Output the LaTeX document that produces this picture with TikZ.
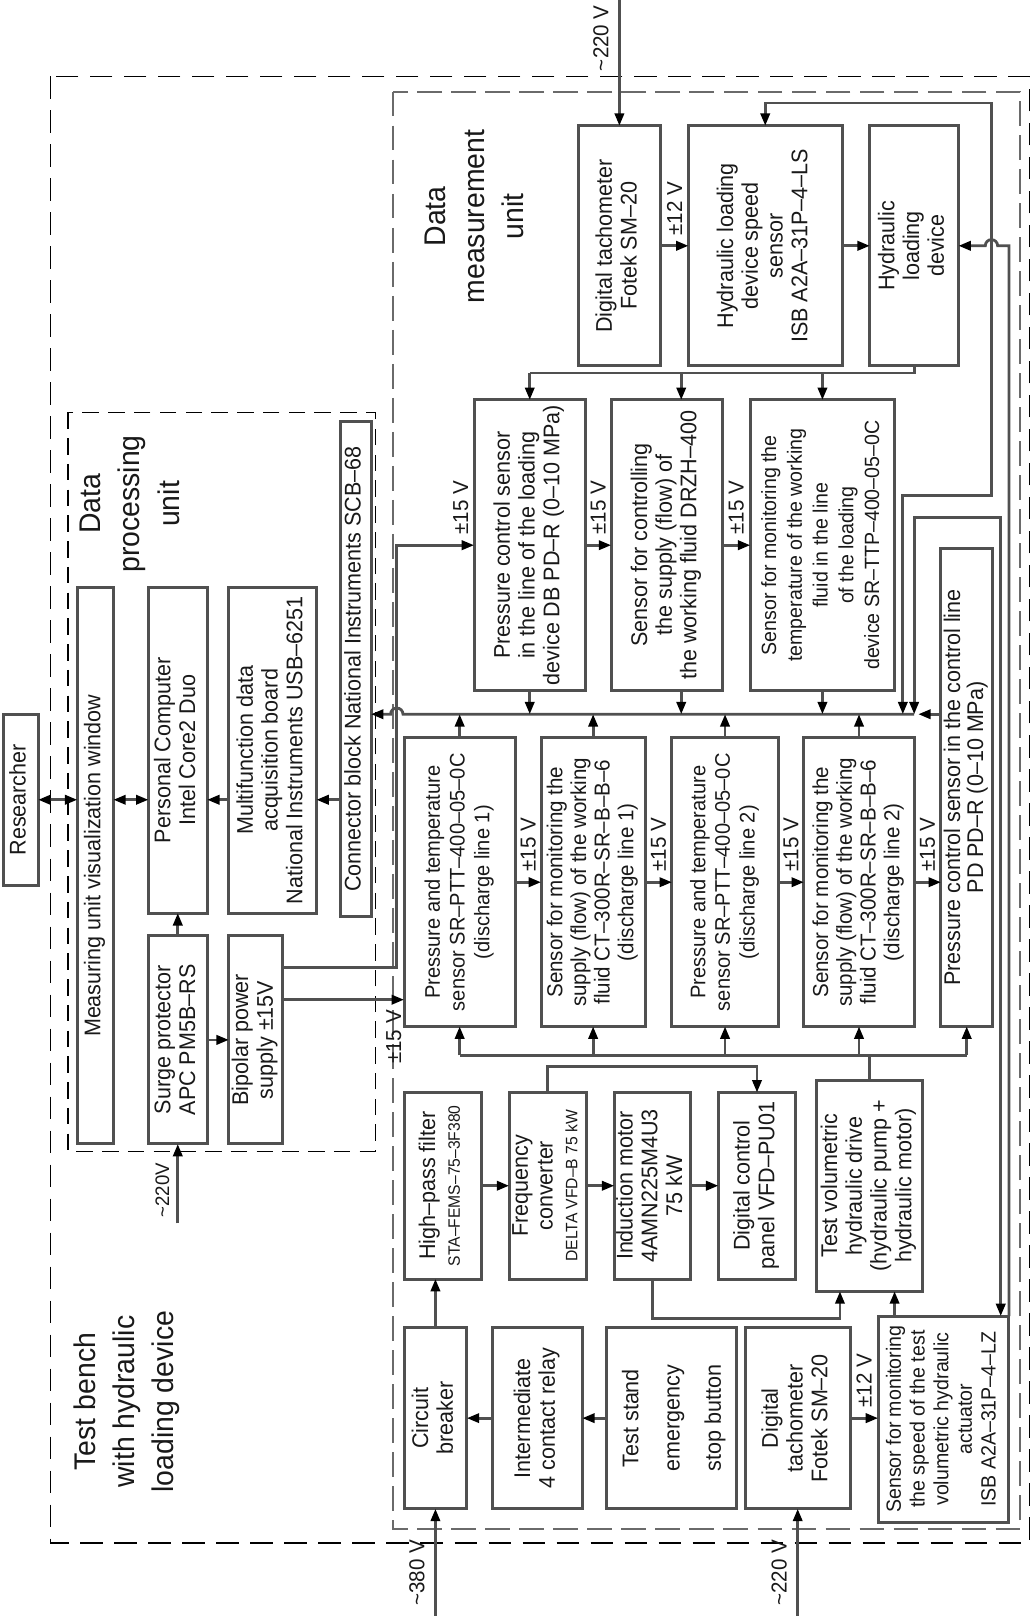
\documentclass[tikz,border=0pt]{standalone}
\usepackage{fontspec}
\setmainfont{Liberation Sans}[FakeStretch=0.95]
\usepackage{graphicx}
\usetikzlibrary{arrows.meta,calc}
\definecolor{ln}{RGB}{80,80,80}
\definecolor{tx}{RGB}{25,25,25}
\newcommand\bx[7][]{%
  \pgfmathsetmacro\bxw{#5-#3}%
  \pgfmathsetmacro\bxh{#6-#4}%
  \pgfmathsetmacro\bxcx{(#3+#5)/2}%
  \pgfmathsetmacro\bxcy{(#4+#6)/2}%
  \node[box,minimum width=\bxw pt,minimum height=\bxh pt,#1] (#2) at (\bxcx,\bxcy) {\rotatebox{90}{\begin{tabular}{@{}c@{}}#7\end{tabular}}};%
}
\begin{document}
\begin{tikzpicture}[x=1pt,y=-1pt,
  box/.style={draw=ln, line width=2.9pt, rectangle, inner sep=0pt, outer sep=0pt, text=tx, font=\fontsize{22}{24}\selectfont},
  con/.style={draw=ln, line width=2.7pt},
  arr/.style={con, -{Triangle[length=12pt,width=9pt,color=black]}},
  darr/.style={con, {Triangle[length=12pt,width=9pt,color=black]}-{Triangle[length=12pt,width=9pt,color=black]}},
  lbl/.style={rotate=90, text=tx, font=\fontsize{21}{22}\selectfont, inner sep=1pt},
  vlbl/.style={rotate=90, text=tx, font=\fontsize{21}{22}\selectfont, inner sep=1pt},
  ttl/.style={rotate=90, text=tx, align=center, font=\fontsize{29}{38}\selectfont},
  frameout/.style={draw=black, line width=1.3pt, dash pattern=on 22pt off 11pt},
  framemeas/.style={draw=ln!85, line width=2pt, dash pattern=on 24pt off 9pt},
  frameproc/.style={draw=black, line width=1.2pt, dash pattern=on 16pt off 9pt}
]
\fill[white] (0,0) rectangle (1003,1568);
\useasboundingbox (0,0) rectangle (1003,1568);

% frames
\draw[frameout] (49,74) rectangle (999,1497);
\draw[framemeas] (381,89) rectangle (990,1484);
\draw[frameproc] (66,400) rectangle (364,1117);

% titles
\node[ttl] (tproc) at (126,489) {Data\\processing\\unit};
\node[ttl] (tbench) at (123,1360) {Test bench\\with hydraulic\\loading device};
\node[ttl] (tmeas) at (460,210) {Data\\measurement\\unit};

% data processing unit
\bx{res}{3}{693}{37}{859}{Researcher}
\bx{meas}{75}{570}{110}{1110}{Measuring unit visualization window}
\bx{pc}{144}{570}{201}{886}{Personal Computer\\Intel Core2 Duo}
\bx{multi}{222}{570}{307}{886}{Multifunction data\\acquisition board\\National Instruments USB–6251}
\bx{conn}{330}{409}{360}{889}{Connector block National Instruments SCB–68}
\bx{surge}{144}{908}{201}{1110}{Surge protector\\APC PM5B–RS}
\bx{bip}{222}{908}{274}{1110}{Bipolar power\\supply ±15V}

% measurement unit
\bx{tach}{561}{122}{641}{355}{Digital tachometer\\Fotek SM–20}
\bx{spd}{668}{122}{817}{355}{Hydraulic loading\\device speed\\sensor\\ISB A2A–31P–4–LS}
\bx{hld}{844}{122}{930}{355}{Hydraulic\\loading\\device}
\bx{U1}{460}{388}{568}{670}{Pressure control sensor\\in the line of the loading\\device DB PD–R (0–10 MPa)}
\bx{U2}{593}{388}{701}{670}{Sensor for controlling\\the supply (flow) of\\the working fluid DRZH–400}
\bx[font=\fontsize{20}{25}\selectfont]{U3}{728}{388}{868}{670}{Sensor for monitoring the\\temperature of the working\\fluid in the line\\of the loading\\device SR–TTP–400–05–0C}
\bx[font=\fontsize{20.5}{24}\selectfont]{L1}{392}{716}{500}{996}{Pressure and temperature\\sensor SR–PTT–400–05–0C\\(discharge line 1)}
\bx[font=\fontsize{21}{23}\selectfont]{L2}{525}{716}{626}{996}{Sensor for monitoring the\\supply (flow) of the working\\fluid CT–300R–SR–B–B–6\\(discharge line 1)}
\bx[font=\fontsize{20.5}{24}\selectfont]{L3}{652}{716}{755}{996}{Pressure and temperature\\sensor SR–PTT–400–05–0C\\(discharge line 2)}
\bx[font=\fontsize{21}{23}\selectfont]{L4}{780}{716}{887}{996}{Sensor for monitoring the\\supply (flow) of the working\\fluid CT–300R–SR–B–B–6\\(discharge line 2)}
\bx[font=\fontsize{22}{21}\selectfont]{L5}{913}{532}{963}{996}{Pressure control sensor in the control line\\PD PD–R (0–10 MPa)}
\bx{B1}{392}{1060}{467}{1241}{High–pass filter\\{\fontsize{16}{18}\selectfont STA–FEMS–75–3F380}}
\bx{B2}{494}{1060}{569}{1241}{Frequency\\converter\\{\fontsize{16}{18}\selectfont DELTA VFD–B 75 kW}}
\bx{B3}{596}{1060}{670}{1241}{Induction motor\\4AMN225M4U3\\75 kW}
\bx{B4}{697}{1060}{772}{1241}{Digital control\\panel VFD–PU01}
\bx{B5}{792}{1048}{895}{1253}{Test volumetric\\hydraulic drive\\(hydraulic pump +\\hydraulic motor)}
\bx{C1}{392}{1288}{453}{1464}{Circuit\\breaker}
\bx{C2}{478}{1288}{565}{1464}{Intermediate\\4 contact relay}
\bx[font=\fontsize{22}{40}\selectfont]{C3}{588}{1288}{715}{1464}{Test stand\\emergency\\stop button}
\bx{C4}{723}{1288}{825}{1464}{Digital\\tachometer\\Fotek SM–20}
\bx[font=\fontsize{20}{23}\selectfont]{C5}{852}{1277}{979}{1477}{Sensor for monitoring\\the speed of the test\\volumetric hydraulic\\actuator\\ISB A2A–31P–4–LZ}

% helper coordinates
\coordinate (top) at (0,0);
\coordinate (bot) at (0,1568);
\coordinate (bus) at (0,693);
\coordinate (lbus) at (0,1024);
\coordinate (tline) at (0,362);
\coordinate (topA) at (0,100);
\coordinate (turnA) at (0,481);
\coordinate (turnC) at (0,502);
\coordinate (xA) at (876,0);
\coordinate (xC) at (887,0);
\coordinate (xAv) at (962,0);
\coordinate (xCv) at (971,0);
\coordinate (xB) at (979,0);
\coordinate (vx) at (385,0);
\coordinate (bipA) at (0,939);
\coordinate (bipB) at (0,970);
\coordinate (b2b4) at (0,1035);
\coordinate (b3b5) at (0,1279);
\coordinate (b5in) at (815,0);
\coordinate (c5in) at (868,0);
\coordinate (u2x) at (661,0);
\coordinate (l5tip) at (891,0);
\coordinate (s220) at (0,1187);

% data processing connectors
\draw[darr] (res.east) -- (meas.west |- res.east);
\draw[darr] (meas.east |- res.east) -- (pc.west |- res.east);
\draw[arr] (multi.west |- res.east) -- (pc.east |- res.east);
\draw[arr] (conn.west |- res.east) -- (multi.east |- res.east);
\draw[arr] (surge.north) -- (pc.south);
\draw[arr] (surge.east) -- (bip.west);
\draw[arr] (surge.south |- s220) -- (surge.south);
\draw[arr] (bip.east |- bipA) -- (vx |- bipA) -- (vx |- U1.west) -- (U1.west);
\draw[arr] (bip.east |- bipB) -- (L1.west |- bipB);

% upper bus
\draw[arr] (xC |- bus) -- ($(vx |- bus)+(6,0)$) arc[start angle=0,end angle=180,radius=6pt] -- (conn.east |- bus);
\draw[arr] (L5.west |- bus) -- (l5tip |- bus);

% top row
\draw[arr] (tach.north |- top) -- (tach.north);
\draw[arr] (tach.east) -- (spd.west);
\draw[arr] (spd.east) -- (hld.west);
\draw[darr] (xA |- bus) -- (xA |- turnA) -- (xAv |- turnA) -- (xAv |- topA) -- (spd.north |- topA) -- (spd.north);
\draw[darr] (xC |- bus) -- (xC |- turnC) -- (xCv |- turnC) -- (xCv |- C5.north);
\draw[arr] (C5.north east) -- (xB |- hld.east) -- ($(xAv |- hld.east)+(6,0)$) arc[start angle=0,end angle=180,radius=6pt] -- (hld.east);

% loading-line sensors
\draw[con] (hld.south) -- (hld.south |- tline) -- (U1.north |- tline);
\draw[arr] (U1.north |- tline) -- (U1.north);
\draw[arr] (u2x |- tline) -- (u2x |- U2.north);
\draw[arr] (U3.north |- tline) -- (U3.north);
\draw[arr] (U1.east) -- (U2.west);
\draw[arr] (U2.east) -- (U3.west);
\draw[arr] (U1.south) -- (U1.south |- bus);
\draw[arr] (u2x |- U2.south) -- (u2x |- bus);
\draw[arr] (U3.south) -- (U3.south |- bus);

% discharge-line sensors
\draw[arr] (L1.east) -- (L2.west);
\draw[arr] (L2.east) -- (L3.west);
\draw[arr] (L3.east) -- (L4.west);
\draw[arr] (L4.east) -- (L5.west |- L4.east);
\draw[arr] (L1.north) -- (L1.north |- bus);
\draw[arr] (L2.north) -- (L2.north |- bus);
\draw[arr] (L3.north) -- (L3.north |- bus);
\draw[arr] (L4.north) -- (L4.north |- bus);

% lower bus
\draw[con] (L1.south |- lbus) -- (L5.south |- lbus);
\draw[con] (B5.north) -- (B5.north |- lbus);
\draw[arr] (L1.south |- lbus) -- (L1.south);
\draw[arr] (L2.south |- lbus) -- (L2.south);
\draw[arr] (L3.south |- lbus) -- (L3.south);
\draw[arr] (L4.south |- lbus) -- (L4.south);
\draw[arr] (L5.south |- lbus) -- (L5.south);

% drive row
\draw[arr] (B1.east) -- (B2.west);
\draw[arr] (B2.east) -- (B3.west);
\draw[arr] (B3.east) -- (B4.west);
\draw[arr] (B2.north) -- (B2.north |- b2b4) -- (B4.north |- b2b4) -- (B4.north);
\draw[arr] (B3.south) -- (B3.south |- b3b5) -- (b5in |- b3b5) -- (b5in |- B5.south);
\draw[arr] (c5in |- C5.north) -- (c5in |- B5.south);

% bottom row
\draw[arr] (C1.north) -- (C1.north |- B1.south);
\draw[arr] (C2.west) -- (C1.east);
\draw[arr] (C3.west) -- (C2.east);
\draw[arr] (C4.east) -- (C5.west |- C4.east);
\draw[arr] (C1.south |- bot) -- (C1.south);
\draw[arr] (C4.south |- bot) -- (C4.south);

% labels
\node[lbl, anchor=west] (v1) at ($(U1.west)+(-13,-9)$) {±15 V};
\node[lbl, anchor=west] (v2) at ($(U1.east)!0.5!(U2.west)+(0,-9)$) {±15 V};
\node[lbl, anchor=west] (v3) at ($(U2.east)!0.5!(U3.west)+(0,-9)$) {±15 V};
\node[lbl, anchor=west] (v4) at ($(L1.east)!0.5!(L2.west)+(0,-9)$) {±15 V};
\node[lbl, anchor=west] (v5) at ($(L2.east)!0.5!(L3.west)+(0,-9)$) {±15 V};
\node[lbl, anchor=west] (v6) at ($(L3.east)!0.5!(L4.west)+(0,-9)$) {±15 V};
\node[lbl, anchor=west] (v7) at ($(L4.east)!0.5!(L5.west |- L4.east)+(0,-9)$) {±15 V};
\node[lbl, anchor=east] (v8) at ($(vx |- bipB)+(-3,9)$) {±15 V};
\node[lbl, anchor=west] (v9) at ($(tach.east)!0.5!(spd.west)+(0,-9)$) {±12 V};
\node[lbl, anchor=west] (v10) at ($(C4.east)!0.5!(C5.west |- C4.east)+(0,-9)$) {±12 V};
\node[vlbl] (p1) at ($(tach.north |- top)+(-18,37)$) {\textasciitilde220 V};
\node[vlbl] (p2) at ($(C1.south |- bot)+(-18,-42)$) {\textasciitilde380 V};
\node[vlbl] (p3) at ($(C4.south |- bot)+(-18,-42)$) {\textasciitilde220 V};
\node[lbl, font=\fontsize{19}{22}\selectfont] (p4) at ($(surge.south |- s220)+(-15,-32)$) {\textasciitilde220V};
\end{tikzpicture}
\end{document}
